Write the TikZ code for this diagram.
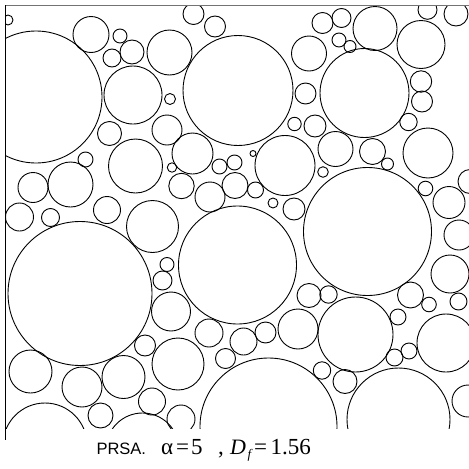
\documentclass[tikz,border=0pt]{standalone}
\usepackage{fontspec}
\newfontfamily\arialf{Liberation Sans}
\newfontfamily\timesf{Liberation Serif}
\begin{document}
\begin{tikzpicture}[x=1pt,y=-1pt,
  grain/.style={draw=black,line width=0.9pt},
  frameline/.style={line width=1pt},
  lbl/.style={anchor=base west,inner sep=0pt,outer sep=0pt}]
\useasboundingbox (0,0) rectangle (469,469);
\fill[white] (0,0) rectangle (469,469);
\begin{scope}
\clip (5.5,5) rectangle (469,428);
\foreach \cx/\cy/\r in {
8/20/5, 36/97/66, 91/34.5/18, 120/36/7, 132/52/12, 112/58/9, 169.5/52.5/22.5,
133/95/29, 193.5/14/10.5, 215/26.5/10.5, 238/90.5/55, 170/99/5.5, 167/130/15,
192.5/153.5/20.5, 309/53.5/17.5, 305.5/93.5/10.5, 294.5/124/6.7, 315/126/11,
322.5/23/10.5, 285/165.5/30, 341.5/18/9.5, 375/28.5/22, 427.5/9.8/9.5, 456/14/12,
421/44.5/24, 339/40/7, 350/46.5/6, 364.5/93/44.5, 421/81.5/10.7, 422/101.5/10.5,
408.5/122/8.7, 335.5/149/17.5, 372.5/151.5/13, 428/153/25, 387.5/164/6, 323/172/5.3,
367.5/231.5/64, 425.5/188.5/7.3, 449/202.5/16, 470/181.5/12, 459/235/15, 450/274/19,
410.5/295/13, 328.5/294.5/8.7, 309/295.5/12, 429/304.5/7.3, 458.5/301.5/8.5,
355.5/334.5/37.5, 398/317/8, 394.5/357.5/8.5, 409/351/8, 446/343/29, 322/370.5/8.7,
345/381.5/12, 398.5/419.5/51.5, 468/401/16, 268.5/426.5/68.5, 237.5/265/59,
171/311.5/19.5, 209/333/14, 243.5/341.5/13.5, 265.5/332.5/10.5, 298/329/20,
225.5/358.5/10, 178/364/26, 181/419/14, 152/401.5/13.5, 80/293.5/72, 145/345.5/10.5,
30.5/371.5/21.5, 82/387/20, 123.5/377/21.5, 100.5/415.5/12.5, 45/445/42,
142.5/449.5/36.5, 85.5/159.5/7.5, 135.5/166/27, 33/187.5/15, 70.5/184.5/22.5,
19.5/217/14, 50.5/217.5/9, 107/210/13.5, 152.5/226.5/26, 167/264.5/7, 162.5/280.5/9.5,
172/167.5/4.7, 219.5/166.5/7.5, 234.5/162.5/7.5, 253/153.5/3, 181.5/186/12.7,
210/197/15, 235/185.5/13, 255.5/190/8, 273/203/5, 294/209/11, 109.5/133.5/12}
  \draw[grain] (\cx,\cy) circle[radius=\r];
\end{scope}
\coordinate (tl) at (5.5,5);
\coordinate (tr) at (469,5);
\coordinate (bl) at (5.5,440);
\draw[frameline,draw=black!55] (tl) -- (tr);
\draw[frameline,draw=black] (tl) -- (bl);
\node[lbl,font=\arialf\fontsize{16.5}{18}\selectfont] (prsa) at (96.5,454.5) {PRSA.};
\node[lbl,font=\timesf\fontsize{23}{26}\selectfont] (alpha) at (161,454.5) {α};
\node[lbl,font=\timesf\fontsize{23}{26}\selectfont] (eqa) at (176,454.5) {=};
\node[lbl,font=\timesf\fontsize{23}{26}\selectfont] (five) at (191,454.5) {5};
\node[lbl,font=\timesf\fontsize{23}{26}\selectfont] (comma) at (218,454.5) {,};
\node[lbl,font=\timesf\itshape\fontsize{22}{26}\selectfont] (D) at (230,454.5) {D};
\node[lbl,font=\timesf\itshape\fontsize{13}{15}\selectfont] (f) at (247.5,458) {f};
\node[lbl,font=\timesf\fontsize{23}{26}\selectfont] (eqb) at (254,454.5) {=};
\node[lbl,font=\timesf\fontsize{23}{26}\selectfont] (val) at (270.5,454.5) {1.56};
\end{tikzpicture}
\end{document}
